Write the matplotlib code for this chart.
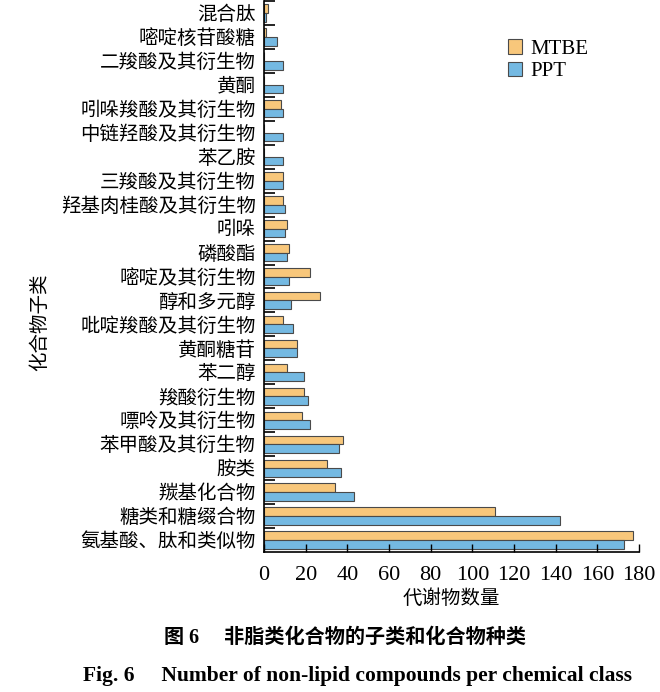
import numpy as np
import matplotlib.pyplot as plt

plt.rcParams['font.family'] = ['Liberation Serif', 'Noto Sans CJK SC']

# categories from bottom to top
categories = ["氨基酸、肽和类似物", "糖类和糖缀合物", "羰基化合物", "胺类",
              "苯甲酸及其衍生物", "嘌呤及其衍生物", "羧酸衍生物", "苯二醇",
              "黄酮糖苷", "吡啶羧酸及其衍生物", "醇和多元醇", "嘧啶及其衍生物",
              "磷酸酯", "吲哚", "羟基肉桂酸及其衍生物", "三羧酸及其衍生物",
              "苯乙胺", "中链羟酸及其衍生物", "吲哚羧酸及其衍生物", "黄酮",
              "二羧酸及其衍生物", "嘧啶核苷酸糖", "混合肽"]
mtbe = [177, 111, 34, 30, 38, 18, 19, 11, 16, 9, 27, 22, 12, 11, 9, 9,
        0, 0, 8, 0, 0, 1, 2]
ppt = [173, 142, 43, 37, 36, 22, 21, 19, 16, 14, 13, 12, 11, 10, 10, 9,
       9, 9, 9, 9, 9, 6, 1]

c_mtbe = "#F8C77B"
c_ppt = "#74B9E2"
edge = "#4a4a4a"

fig = plt.figure(figsize=(6.6, 6.92), dpi=100)
ax = fig.add_axes([264/660, 1 - 552/692, 375/660, 551/692])

y = np.arange(len(categories))
h = 0.36
ax.barh(y + h/2, mtbe, height=h, color=c_mtbe, edgecolor=edge, linewidth=0.8, label="MTBE")
ax.barh(y - h/2, ppt, height=h, color=c_ppt, edgecolor=edge, linewidth=0.8, label="PPT")

ax.set_xlim(0, 180)
ax.set_ylim(-0.5, len(categories) - 0.5)
ax.set_xticks(np.arange(0, 181, 20))
ax.tick_params(axis='x', direction='in', length=6, width=1, labelsize=16, pad=10)

# boundary ticks (unlabelled) and centred labels
ax.set_yticks(y + 0.5)
ax.set_yticklabels([])
ax.tick_params(axis='y', which='major', direction='in', length=8, width=1.2)
ax.set_yticks(y, minor=True)
ax.set_yticklabels(categories, minor=True, fontsize=14)
ax.tick_params(axis='y', which='minor', length=0, pad=6)

for s in ['top', 'right']:
    ax.spines[s].set_visible(False)
for s in ['left', 'bottom']:
    ax.spines[s].set_linewidth(1.2)

ax.set_xlabel("代谢物数量", fontsize=14, labelpad=3)
fig.text(40/660, 1 - 322/692, "化合物子类", rotation=90, fontsize=14,
         ha='center', va='center')

ax.legend(loc='upper left', bbox_to_anchor=(0.6, 0.965), frameon=False,
          fontsize=15, handlelength=0.7, handleheight=0.7, handletextpad=0.4,
          labelspacing=0.15)

fig.text(0.522, 1 - 638/692, "图 6     非脂类化合物的子类和化合物种类", fontsize=14.5,
         fontweight='bold', ha='center', va='center')
fig.text(0.541, 1 - 676/692, "Fig. 6     Number of non-lipid compounds per chemical class",
         fontsize=15.5, fontweight='bold', ha='center', va='center')

fig.savefig("out.png", dpi=100)
